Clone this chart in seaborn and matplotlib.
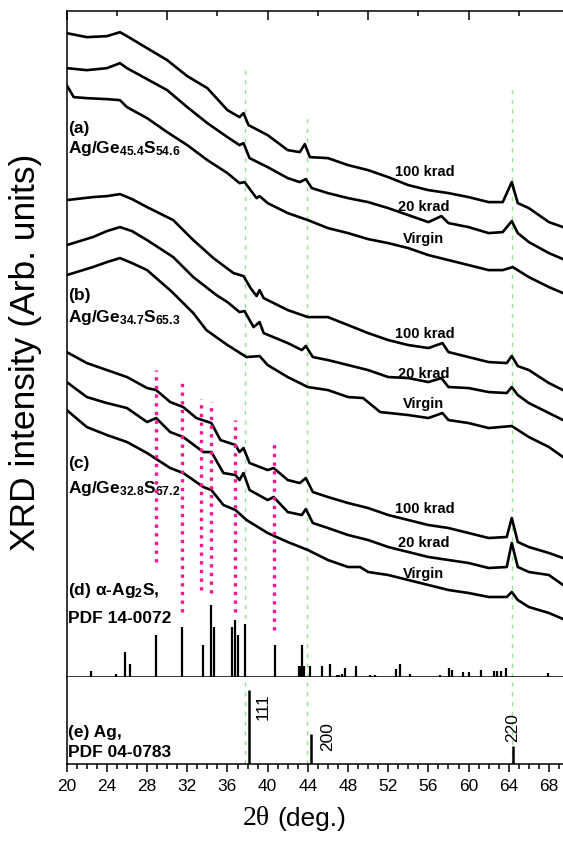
import numpy as np
import pandas as pd
import seaborn as sns
import matplotlib.pyplot as plt
from matplotlib.ticker import MultipleLocator

# 2theta (deg.) and stacked intensity (arb.)
a_100_x = [20, 22, 24, 25.3, 26, 28, 30, 32, 34, 36, 37.2, 37.6, 38.1, 40, 42, 43.2, 43.7, 44.2, 46, 48, 50, 52,
           54, 56, 58, 60, 62, 63.4, 64.3, 64.9, 66, 68, 69.4]
a_100_y = [644, 640, 641, 645, 641, 629, 617, 601, 589, 567, 560, 564, 552, 542, 527, 525, 533, 520, 519, 512, 507,
           500, 492, 487, 484, 480, 475, 475, 495, 474, 469, 455, 450]
a_20_x = [20, 22, 24, 25.3, 26, 28, 30, 32, 34, 36, 37.2, 37.6, 38.2, 40, 42, 43.2, 43.8, 44.4, 46, 48, 50, 52, 54,
          56, 57.3, 58, 60, 62, 63.4, 64.3, 64.9, 66, 68, 69.4]
a_20_y = [609, 607, 609, 614, 609, 598, 587, 570, 554, 540, 532, 534, 519, 510, 499, 495, 498, 489, 484, 479, 475, 469,
          462, 455, 461, 454, 450, 444, 445, 456, 444, 435, 424, 418]
a_v_x = [20, 20.7, 22, 24, 25.3, 26, 28, 30, 32, 34, 36, 37.2, 37.7, 38.9, 39.2, 40, 42, 44, 46, 48, 50, 52, 54, 56,
         58, 60, 62, 63.4, 64.4, 66, 68, 69.4]
a_v_y = [592, 580, 579, 578, 577, 570, 559, 545, 532, 517, 504, 494, 495, 479, 481, 474, 464, 457, 449, 444, 438, 434,
         429, 422, 417, 412, 407, 407, 410, 400, 390, 384]

b_100_x = [20, 22.6, 24, 25.3, 26.5, 28, 30.6, 32.6, 34.6, 36.6, 37.6, 38.3, 38.9, 39.2, 39.6, 42, 44, 46, 48, 50,
           52, 54, 56, 57.4, 58, 60, 62, 63.8, 64.3, 64.9, 66, 68, 69.4]
b_100_y = [477, 480, 481, 483, 478, 470, 457, 437, 419, 404, 401, 389, 381, 387, 379, 367, 360, 360, 352, 344,
           337, 332, 329, 334, 325, 320, 315, 314, 321, 311, 307, 294, 287]
b_20_x = [20, 22.6, 24, 25.3, 26.5, 28, 30.6, 32.6, 34.9, 36, 37.2, 37.7, 38.6, 39.2, 39.6, 42, 43.4, 43.8, 44.5,
          46, 48, 50, 52, 54, 56, 57.3, 58, 60, 62, 63.8, 64.3, 64.9, 66, 68, 69.4]
b_20_y = [432, 440, 446, 450, 446, 437, 420, 400, 382, 375, 365, 366, 350, 355, 344, 334, 327, 331, 320,
          317, 312, 307, 300, 299, 295, 299, 290, 289, 285, 284, 290, 282, 274, 264, 257]
b_v_x = [20, 22.6, 24, 25.3, 26.5, 28, 30.5, 32.6, 33.9, 36, 37.9, 39.2, 40, 42, 44, 46, 48, 49.5, 51.2, 54, 56,
         57.4, 58, 60, 62, 64.3, 66, 68, 69.4]
b_v_y = [402, 410, 415, 419, 414, 407, 385, 364, 347, 332, 320, 321, 312, 300, 290, 287, 280, 279, 265, 262, 259,
         264, 257, 254, 249, 251, 240, 230, 220]

c_100_x = [20, 22, 24, 26, 28, 28.9, 30.3, 31.6, 32.9, 34.4, 35.3, 36.8, 37.2, 37.6, 38.2, 40, 40.6, 42, 43.2, 43.8,
           44.5, 46, 48, 50, 52, 54, 56, 58, 60, 62, 63.8, 64.3, 64.9, 66, 68, 69.4]
c_100_y = [325, 314, 307, 300, 289, 287, 275, 270, 259, 254, 237, 232, 225, 229, 214, 207, 209, 197, 194, 199, 185,
           180, 174, 169, 162, 157, 152, 149, 144, 139, 140, 159, 135, 130, 124, 119]
c_20_x = [20, 22, 24, 26, 28, 28.9, 30.3, 31.6, 33.6, 34.4, 35.6, 36.8, 37.2, 37.6, 38.2, 40, 40.6, 42, 43.4, 43.8,
          44.5, 46, 48, 50, 52, 54, 56, 58, 60, 62, 63.8, 64.3, 64.9, 66, 68, 69.4]
c_20_y = [295, 280, 274, 269, 255, 259, 245, 240, 225, 225, 204, 202, 197, 204, 187, 177, 180, 165, 162, 168, 154,
          149, 142, 137, 130, 125, 120, 117, 114, 109, 110, 134, 110, 105, 102, 92]
c_v_x = [20, 22, 24, 26, 28, 30.3, 31.6, 33.6, 34.4, 35.6, 36.8, 37.9, 40, 42, 44, 46, 48, 49.2, 50, 52, 54, 56, 58,
         60, 62, 63.8, 64.3, 64.9, 66, 68, 69.4]
c_v_y = [267, 250, 242, 235, 224, 209, 204, 190, 187, 172, 167, 157, 144, 135, 127, 117, 110, 110, 105, 102, 97, 92,
         87, 84, 80, 80, 85, 77, 70, 64, 58]

# (d) alpha-Ag2S, PDF 14-0072 stick pattern
ag2s_pos = [22.42, 24.87, 25.83, 26.27, 28.92, 31.5, 33.6, 34.36, 34.66, 36.48, 36.78, 37.08, 37.71, 40.7, 43.1,
            43.25, 43.38, 43.5, 43.6, 44.2, 45.43, 46.17, 46.86, 47.1, 47.4, 47.72, 48.75, 50.2, 50.7, 52.77, 53.2,
            54.16, 57.15, 58.07, 58.37, 59.4, 60.0, 61.2, 62.5, 62.85, 63.2, 63.7, 67.9]
ag2s_int = [6, 3, 25, 13, 42, 50, 32, 72, 50, 50, 57, 42, 53, 32, 11, 11, 32, 11, 11, 11, 11, 13, 2, 2, 3, 9, 11, 2,
            2, 8, 13, 3, 2, 9, 7, 5, 5, 7, 6, 6, 6, 9, 4]

# (e) Ag, PDF 04-0783
ag_pos = [38.1, 44.3, 64.4]
ag_int = [100, 41, 25]
ag_hkl = ['111', '200', '220']

# guide lines
pink_pos = [28.9, 31.5, 33.4, 34.35, 36.8, 40.65]
pink_top = [307, 299, 278, 275, 257, 237]
pink_bot = [115, 65, 87, 84, 65, 47]
green_pos = [37.75, 43.9, 64.3]
green_top = [607, 564, 587]

traces = {
    'a_100': (a_100_x, a_100_y), 'a_20': (a_20_x, a_20_y), 'a_v': (a_v_x, a_v_y),
    'b_100': (b_100_x, b_100_y), 'b_20': (b_20_x, b_20_y), 'b_v': (b_v_x, b_v_y),
    'c_100': (c_100_x, c_100_y), 'c_20': (c_20_x, c_20_y), 'c_v': (c_v_x, c_v_y),
}
rows = []
for name, (xs, ys) in traces.items():
    for x, y in zip(xs, ys):
        rows.append({'trace': name, 'two_theta': x, 'intensity': y})
df = pd.DataFrame(rows)

sns.set_style("ticks")
plt.rcParams['font.family'] = ['Liberation Sans', 'DejaVu Sans']
plt.rcParams['mathtext.default'] = 'regular'
for k in ['text.color', 'axes.labelcolor', 'xtick.color', 'ytick.color', 'axes.edgecolor']:
    plt.rcParams[k] = 'black'

fig = plt.figure(figsize=(5.63, 8.46), dpi=100)
ax = fig.add_axes([0.1185, 0.1998, 0.8815, 0.787])
axb = fig.add_axes([0.1185, 0.0969, 0.8815, 0.1029])

green = '#8fe68f'
# green dashed reference lines (Ag positions)
for x, top in zip(green_pos, green_top):
    ax.plot([x, x], [0, top], color=green, lw=1.0, ls=(0, (3, 4)), zorder=1)
    axb.axvline(x, color=green, lw=1.0, ls=(0, (3, 4)), zorder=1)

sns.lineplot(data=df, x='two_theta', y='intensity', units='trace', estimator=None, sort=False,
             color='black', lw=1.9, ax=ax, legend=False, zorder=3)

ax.vlines(ag2s_pos, 0, ag2s_int, color='black', lw=1.6, zorder=3)
ax.vlines(pink_pos, pink_bot, pink_top, color='#ff1493', lw=2.4, linestyles=(0, (1, 1.6)), zorder=4)

ax.set_xlim(20, 69.4)
ax.set_ylim(0, 666)
ax.set_xlabel('')
ax.set_ylabel('')
ax.set_yticks([])
ax.xaxis.set_major_locator(MultipleLocator(10))
ax.xaxis.set_minor_locator(MultipleLocator(5))
ax.tick_params(axis='x', which='both', bottom=False, top=True, labelbottom=False, direction='in', width=1.1)
ax.tick_params(axis='x', which='major', length=6.5)
ax.tick_params(axis='x', which='minor', length=3.8)
ax.spines['right'].set_visible(False)
for s in ['left', 'top', 'bottom']:
    ax.spines[s].set_linewidth(1.1)

# sample labels
bold = dict(fontweight='bold', color='black')
ax.text(20.12, 544, '(a)', fontsize=12.5, **bold)
ax.text(20.12, 524, 'Ag/Ge$_{45.4}$S$_{54.6}$', fontsize=12.5, **bold)
ax.text(20.12, 377, '(b)', fontsize=12.5, **bold)
ax.text(20.12, 355, 'Ag/Ge$_{34.7}$S$_{65.3}$', fontsize=12.5, **bold)
ax.text(20.12, 209, '(c)', fontsize=12.5, **bold)
ax.text(20.12, 184, 'Ag/Ge$_{32.8}$S$_{67.2}$', fontsize=12.5, **bold)
ax.text(20.12, 82, '(d) α-Ag$_2$S,', fontsize=12.5, **bold)
ax.text(20.12, 54, 'PDF 14-0072', fontsize=12.5, **bold)

for y100, y20, yv in [(501, 466, 434), (339, 299, 269), (164, 130, 99)]:
    ax.text(52.7, y100, '100 krad', fontsize=10.5, **bold)
    ax.text(53.0, y20, '20 krad', fontsize=10.5, **bold)
    ax.text(53.5, yv, 'Virgin', fontsize=10.5, **bold)

# Ag reference panel
axb.vlines(ag_pos, 0, ag_int, color='black', lw=1.8, zorder=3)
for x, y, lab in zip([39.55, 46.0, 64.4], [78, 37, 49], ag_hkl):
    axb.text(x, y, lab, rotation=90, ha='center', va='center', fontsize=12.5)
axb.text(20.12, 37, '(e) Ag,', fontsize=12.5, **bold)
axb.text(20.12, 9.6, 'PDF 04-0783', fontsize=12.5, **bold)

axb.set_xlim(20, 69.4)
axb.set_ylim(0, 118)
axb.set_yticks([])
axb.xaxis.set_major_locator(MultipleLocator(4))
axb.xaxis.set_minor_locator(MultipleLocator(1))
axb.tick_params(axis='x', which='both', direction='out', width=1.1, labelsize=12.5, pad=5)
axb.tick_params(axis='x', which='major', length=5.8)
axb.tick_params(axis='x', which='minor', length=3.4)
axb.spines['right'].set_visible(False)
axb.spines['top'].set_visible(False)
for s in ['left', 'bottom']:
    axb.spines[s].set_linewidth(1.1)

fig.text(0.046, 0.584, 'XRD intensity (Arb. units)', rotation=90, ha='center', va='center', fontsize=25.5)
t1 = fig.text(0.432, 0.025, '2θ', family=['Liberation Serif', 'DejaVu Serif'], fontsize=20, va='baseline')
ax.annotate('(deg.)', xy=(1, 0), xycoords=t1, xytext=(5, 0), textcoords='offset points',
            fontsize=19, va='bottom', annotation_clip=False)

fig.savefig('out.png', dpi=100)
